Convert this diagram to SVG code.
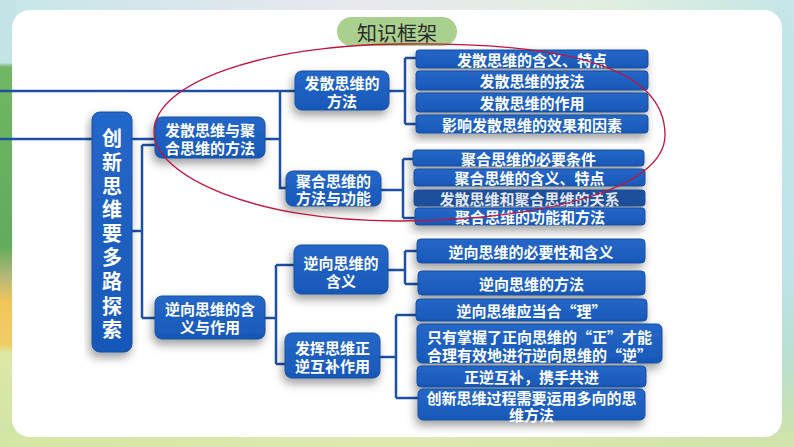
<svg xmlns="http://www.w3.org/2000/svg" width="794" height="447" viewBox="0 0 794 447">
<defs>
<linearGradient id="topg" x1="0" y1="0" x2="1" y2="0">
<stop offset="0" stop-color="#c6e6e8"/><stop offset="0.45" stop-color="#e9e8ef"/><stop offset="0.75" stop-color="#e2efe0"/><stop offset="1" stop-color="#c4e6e6"/>
</linearGradient>
<linearGradient id="leftg" x1="0" y1="0" x2="0" y2="1">
<stop offset="0" stop-color="#c2e4e6"/><stop offset="0.14" stop-color="#c2e4e6"/><stop offset="0.15" stop-color="#71b763"/><stop offset="0.55" stop-color="#62ab5c"/><stop offset="0.62" stop-color="#b8b878"/><stop offset="0.68" stop-color="#f2c65a"/><stop offset="0.77" stop-color="#f0cc66"/><stop offset="0.79" stop-color="#dde8a4"/><stop offset="1" stop-color="#cfe4a8"/>
</linearGradient>
<linearGradient id="rightg" x1="0" y1="0" x2="0" y2="1">
<stop offset="0" stop-color="#c4e6e8"/><stop offset="0.6" stop-color="#bfe3ea"/><stop offset="0.8" stop-color="#b9dfd0"/><stop offset="1" stop-color="#cfe3a8"/>
</linearGradient>
<linearGradient id="botg" x1="0" y1="0" x2="1" y2="0">
<stop offset="0" stop-color="#d4e6a4"/><stop offset="0.5" stop-color="#dfe8b0"/><stop offset="1" stop-color="#cfe3aa"/>
</linearGradient>
<linearGradient id="boxg" x1="0" y1="0" x2="0" y2="1">
<stop offset="0" stop-color="#2467c8"/><stop offset="1" stop-color="#1858b8"/>
</linearGradient>
<filter id="sh" x="-20%" y="-30%" width="140%" height="190%">
<feDropShadow dx="-2" dy="5" stdDeviation="5" flood-color="#000" flood-opacity="0.38"/>
</filter>
<style>
.box{fill:url(#boxg);stroke:#1a4f9e;stroke-width:1;filter:url(#sh)}
.t{font-family:"Noto Sans CJK SC","Noto Sans",sans-serif;font-weight:700;fill:#fff;text-anchor:middle;dominant-baseline:central;font-size:15px}
.big{font-size:20px}
.ln{stroke:#1d4fa3;stroke-width:2.5;fill:none}
</style>
</defs>
<rect x="0" y="0" width="794" height="447" fill="url(#topg)"/>
<rect x="0" y="0" width="16" height="447" fill="url(#leftg)"/>
<rect x="778" y="0" width="16" height="447" fill="url(#rightg)"/>
<rect x="0" y="433" width="794" height="14" fill="url(#botg)"/>
<rect x="12" y="10" width="770" height="427" rx="18" fill="#ffffff"/>

<g id="title">
<rect x="337" y="17" width="120" height="29" rx="14.5" fill="#a9d08e"/>
<text x="397" y="32" style="font-family:'Noto Sans CJK SC',sans-serif;font-size:20px;fill:#2a2a2a;text-anchor:middle;dominant-baseline:central">知识框架</text>
</g>

<g id="connectors">
<path class="ln" d="M0,91 H295 M0,139 H155 M265,139 H280 M280,91 V188 H286"/>
<path class="ln" d="M132,231 H142 M142,145 V318 M142,145 H155 M142,318 H155"/>
<path class="ln" d="M265,318 H276 M276,265 V364 M276,265 H294 M276,364 H285"/>
<path class="ln" d="M389,91 H405 M405,58 V124 M405,58 H416 M405,124 H416"/>
<path class="ln" d="M381,190 H403 M403,159 V218 M403,159 H414 M403,218 H415"/>
<path class="ln" d="M388,270 H405 M405,251 V284 M405,251 H417 M405,284 H418"/>
<path class="ln" d="M380,357 H396 M396,315 V398 M396,315 H416 M396,398 H418"/>
</g>

<g id="root">
<rect class="box" x="92" y="112" width="40" height="240" rx="8"/>
<text class="t big" x="112"><tspan x="112" y="137">创</tspan><tspan x="112" y="161">新</tspan><tspan x="112" y="185">思</tspan><tspan x="112" y="208">维</tspan><tspan x="112" y="232">要</tspan><tspan x="112" y="256">多</tspan><tspan x="112" y="280">路</tspan><tspan x="112" y="305">探</tspan><tspan x="112" y="328">索</tspan></text>
</g>

<g id="b1">
<rect class="box" x="155" y="117" width="110" height="41" rx="7"/>
<text class="t"><tspan x="210" y="129">发散思维与聚</tspan><tspan x="210" y="147">合思维的方法</tspan></text>
</g>
<g id="b2">
<rect class="box" x="155" y="296" width="110" height="43" rx="7"/>
<text class="t"><tspan x="210" y="308">逆向思维的含</tspan><tspan x="210" y="326">义与作用</tspan></text>
</g>

<g id="m1">
<rect class="box" x="295" y="71" width="94" height="39" rx="7"/>
<text class="t"><tspan x="342" y="82">发散思维的</tspan><tspan x="342" y="100">方法</tspan></text>
</g>
<g id="m2">
<rect class="box" x="286" y="171" width="95" height="35" rx="7"/>
<text class="t"><tspan x="333.5" y="180">聚合思维的</tspan><tspan x="333.5" y="197">方法与功能</tspan></text>
</g>
<g id="m3">
<rect class="box" x="294" y="245" width="94" height="49" rx="7"/>
<text class="t"><tspan x="341" y="262">逆向思维的</tspan><tspan x="341" y="280">含义</tspan></text>
</g>
<g id="m4">
<rect class="box" x="285" y="333" width="95" height="45" rx="7"/>
<text class="t"><tspan x="332.5" y="347">发挥思维正</tspan><tspan x="332.5" y="365">逆互补作用</tspan></text>
</g>

<g id="l1"><rect class="box" x="416" y="50" width="232" height="18" rx="3"/><text class="t" x="532" y="59">发散思维的含义、特点</text></g>
<g id="l2"><rect class="box" x="416" y="71" width="232" height="19" rx="3"/><text class="t" x="532" y="80.5">发散思维的技法</text></g>
<g id="l3"><rect class="box" x="416" y="93" width="232" height="19" rx="3"/><text class="t" x="532" y="102.5">发散思维的作用</text></g>
<g id="l4"><rect class="box" x="416" y="115" width="232" height="18" rx="3"/><text class="t" x="532" y="124">影响发散思维的效果和因素</text></g>

<g id="l5"><rect class="box" x="413" y="150" width="231" height="16" rx="3"/><text class="t" x="528.5" y="158">聚合思维的必要条件</text></g>
<g id="l6"><rect class="box" x="414" y="169" width="231" height="17" rx="3"/><text class="t" x="529.5" y="177.5">聚合思维的含义、特点</text></g>
<g id="l7"><rect class="box" x="414" y="190" width="231" height="16" rx="3" style="fill:#1c4f9c"/><text class="t" x="529.5" y="198" style="fill:#e4e8f0">发散思维和聚合思维的关系</text></g>
<g id="l8"><rect class="box" x="415" y="208" width="230" height="17" rx="3"/><text class="t" x="530" y="216.5">聚合思维的功能和方法</text></g>

<g id="l9"><rect class="box" x="417" y="239" width="228" height="24" rx="4"/><text class="t" x="531" y="251">逆向思维的必要性和含义</text></g>
<g id="l10"><rect class="box" x="418" y="271" width="227" height="24" rx="4"/><text class="t" x="531.5" y="283">逆向思维的方法</text></g>

<g id="l11"><rect class="box" x="416" y="299" width="231" height="22" rx="4"/><text class="t" x="531.5" y="310">逆向思维应当合“理”</text></g>
<g id="l12"><rect class="box" x="417" y="324" width="245" height="39" rx="5"/><text class="t"><tspan x="539.5" y="336">只有掌握了正向思维的“正”才能</tspan><tspan x="539.5" y="354">合理有效地进行逆向思维的“逆”</tspan></text></g>
<g id="l13"><rect class="box" x="417" y="366" width="229" height="21" rx="4"/><text class="t" x="531.5" y="376.5">正逆互补，携手共进</text></g>
<g id="l14"><rect class="box" x="418" y="389" width="227" height="31" rx="5"/><text class="t"><tspan x="531.5" y="397">创新思维过程需要运用多向的思</tspan><tspan x="531.5" y="414">维方法</tspan></text></g>

<path d="M154,132 C154,82 265,45 400,44 C550,42 665,62 665,135 C665,190 540,220 400,221 C255,222 154,176 154,132 Z" fill="none" stroke="#c0143c" stroke-width="1.3"/>
</svg>
